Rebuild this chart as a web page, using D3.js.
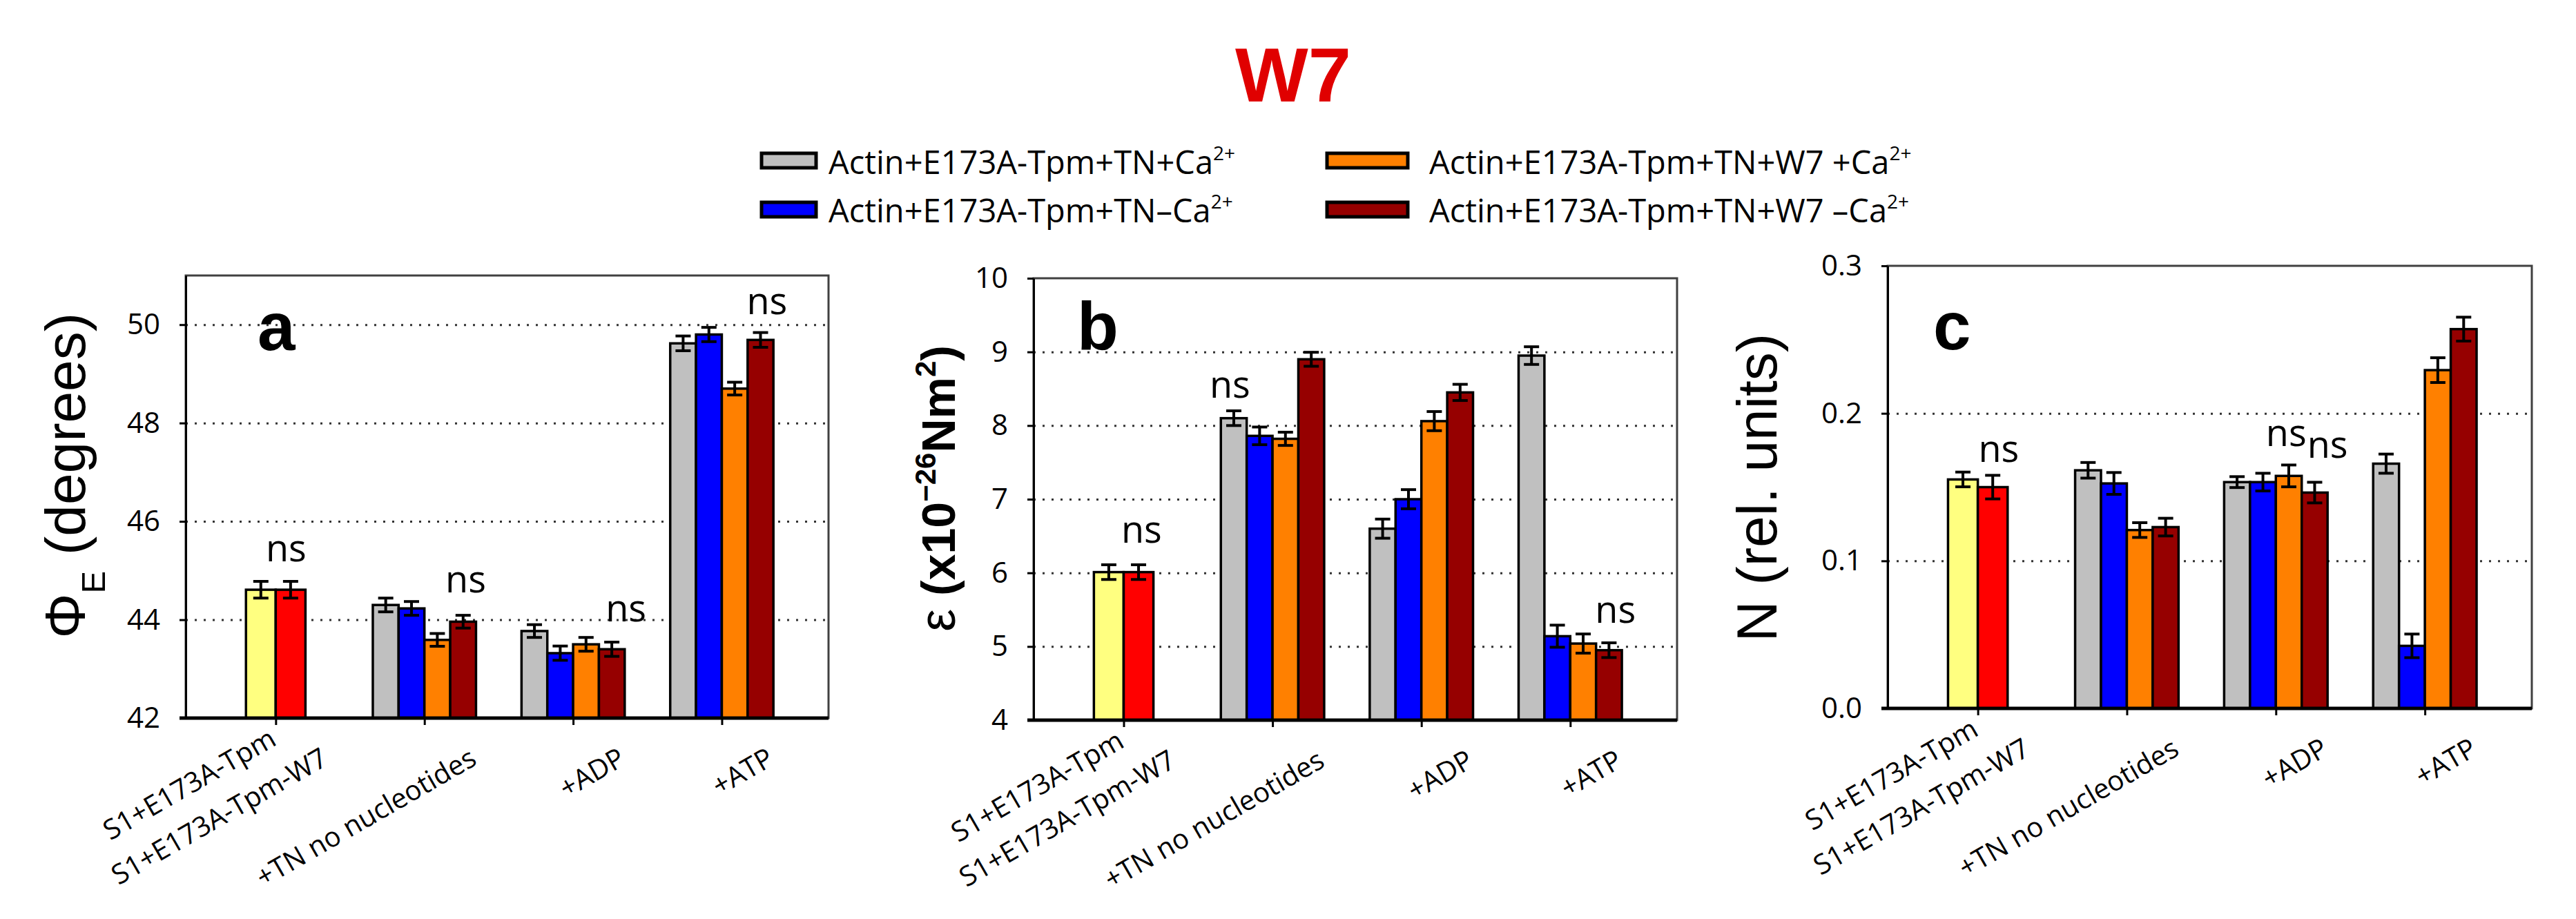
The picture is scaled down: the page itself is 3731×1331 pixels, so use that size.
<!DOCTYPE html>
<html>
<head>
<meta charset="utf-8">
<script src="https://cdn.jsdelivr.net/npm/d3@7"></script>
<style>
  body { margin: 0; background: #fff; }
  svg text { font-family: "Open Sans", sans-serif; fill: #000; }
</style>
</head>
<body>
<div id="chart"></div>
<script>
// categories (x groups) and their tick labels
const groups = ["pair", "tn", "adp", "atp"]
const groupLabels = [["S1+E173A-Tpm", "S1+E173A-Tpm-W7"], ["+TN no nucleotides"], ["+ADP"], ["+ATP"]]

// legend series
const seriesNames = ["Actin+E173A-Tpm+TN+Ca", "Actin+E173A-Tpm+TN\u2013Ca", "Actin+E173A-Tpm+TN+W7 +Ca", "Actin+E173A-Tpm+TN+W7 \u2013Ca"]
const seriesColors = ["#c0c0c0", "#0000ff", "#ff8000", "#960000"]
const pairColors = ["#ffff80", "#ff0000"]

// panel a: phi E (degrees)
const phiValues = [[44.61, 44.61], [44.30, 44.23, 43.59, 43.96], [43.77, 43.32, 43.50, 43.40], [49.62, 49.80, 48.70, 49.69]]
const phiErrors = [[0.17, 0.17], [0.14, 0.14, 0.13, 0.13], [0.13, 0.145, 0.14, 0.145], [0.15, 0.145, 0.13, 0.15]]
const phiTicks = [42, 44, 46, 48, 50]
const phiNs = [{group: 0, bar: 1, value: 45.19, shift: -0.15}, {group: 1, bar: 3, value: 44.55, shift: 0.1}, {group: 2, bar: 3, value: 43.96, shift: 0.55}, {group: 3, bar: 3, value: 50.21, shift: 0.25}]

// panel b: epsilon (x10^-26 Nm^2)
const epsValues = [[6.01, 6.01], [8.10, 7.86, 7.82, 8.90], [6.60, 7.00, 8.06, 8.45], [8.95, 5.14, 5.04, 4.95]]
const epsErrors = [[0.1, 0.1], [0.1, 0.12, 0.09, 0.095], [0.13, 0.13, 0.13, 0.11], [0.12, 0.15, 0.13, 0.1]]
const epsTicks = [4, 5, 6, 7, 8, 9, 10]
const epsNs = [{group: 0, bar: 1, value: 6.41, shift: 0.1}, {group: 1, bar: 0, value: 8.38, shift: -0.15}, {group: 3, bar: 3, value: 5.32, shift: 0.25}]

// panel c: N (rel. units)
const nValues = [[0.1552, 0.150], [0.1614, 0.1525, 0.1209, 0.1229], [0.1534, 0.1534, 0.1576, 0.1463], [0.1659, 0.0424, 0.2293, 0.2571]]
const nErrors = [[0.005, 0.008], [0.0053, 0.0074, 0.005, 0.006], [0.0037, 0.006, 0.0074, 0.007], [0.0065, 0.008, 0.0084, 0.0081]]
const nTicks = [0, 0.1, 0.2, 0.3]
const nNs = [{group: 0, bar: 1, value: 0.1673, shift: 0.2}, {group: 2, bar: 2, value: 0.1777, shift: -0.1}, {group: 2, bar: 3, value: 0.1697, shift: 0.5}]

const W = 3731, H = 1331

// panels: data + pixel box of the plot area
const panels = [
  {letter: "a", values: phiValues, errors: phiErrors, ticks: phiTicks, domain: [42, 51], grid: [44, 46, 48, 50], fmt: d3.format("d"), ns: phiNs,
   box: {x0: 269, x1: 1200, y0: 399, y1: 1040}, letterPos: [373, 507], titlePos: [123, 453]},
  {letter: "b", values: epsValues, errors: epsErrors, ticks: epsTicks, domain: [4, 10], grid: [5, 6, 7, 8, 9], fmt: d3.format("d"), ns: epsNs,
   box: {x0: 1497, x1: 2429, y0: 403, y1: 1043}, letterPos: [1560, 506], titlePos: [1383, 500]},
  {letter: "c", values: nValues, errors: nErrors, ticks: nTicks, domain: [0, 0.3], grid: [0.1, 0.2], fmt: d3.format(".1f"), ns: nNs,
   box: {x0: 2734, x1: 3667, y0: 385, y1: 1026}, letterPos: [2800, 506], titlePos: [2573, 483]}
]

const svg = d3.select("#chart").append("svg")
  .attr("width", W).attr("height", H)
  .attr("viewBox", `0 0 ${W} ${H}`)

// Title
svg.append("text")
  .attr("x", 1873).attr("y", 147)
  .attr("text-anchor", "middle")
  .style("font-family", "'Liberation Sans', Arial, sans-serif")
  .style("font-weight", "bold")
  .style("font-size", "112px")
  .style("fill", "#e00000")
  .text("W7")

// Legend (two columns, two rows)
const legendCols = [{sx: 1103, sw: 79, tx: 1200}, {sx: 1922, sw: 117, tx: 2070}]
const legendRows = [{sy: 222, ty: 252}, {sy: 293, ty: 322}]
seriesNames.forEach((name, i) => {
  const col = legendCols[Math.floor(i / 2)], row = legendRows[i % 2]
  svg.append("rect")
    .attr("x", col.sx).attr("y", row.sy)
    .attr("width", col.sw).attr("height", 21)
    .attr("fill", seriesColors[i])
    .attr("stroke", "#000").attr("stroke-width", 5)
  const t = svg.append("text")
    .attr("x", col.tx).attr("y", row.ty)
    .style("font-size", "47px")
  t.append("tspan").text(name)
  t.append("tspan").attr("dy", -20).style("font-size", "28px").text("2+")
})

const pairFrac = 0.40, quadFrac = 0.694

panels.forEach((p, pi) => {
  const box = p.box
  const pw = box.x1 - box.x0
  const g = svg.append("g")

  const y = d3.scaleLinear().domain(p.domain).range([box.y1, box.y0])
  const x = d3.scalePoint().domain(groups).range([box.x0 + pw * 0.14, box.x0 + pw * 0.834])
  const step = x.step()

  // dotted grid
  g.append("g")
    .attr("transform", `translate(${box.x0},0)`)
    .call(d3.axisLeft(y).tickValues(p.grid).tickSize(-pw).tickFormat(""))
    .call(s => s.select(".domain").remove())
    .selectAll("line")
    .attr("stroke", "#333").attr("stroke-width", 3).attr("stroke-dasharray", "3,10")

  // bars + error bars
  groups.forEach((gk, gi) => {
    const vals = p.values[gi], errs = p.errors[gi]
    const n = vals.length
    const gw = step * (n == 2 ? pairFrac : quadFrac)
    const xb = d3.scaleBand().domain(d3.range(n)).range([x(gk) - gw / 2, x(gk) + gw / 2])
    const colors = n == 2 ? pairColors : seriesColors
    const bg = g.append("g")

    bg.selectAll("rect")
      .data(vals)
      .enter()
      .append("rect")
      .attr("x", (d, i) => xb(i))
      .attr("width", xb.bandwidth())
      .attr("y", d => y(d))
      .attr("height", d => y(p.domain[0]) - y(d))
      .attr("fill", (d, i) => colors[i])
      .attr("stroke", "#000").attr("stroke-width", 3.5)

    const eb = bg.selectAll("g.err")
      .data(vals.map((v, i) => ({v: v, e: errs[i], i: i})))
      .enter()
      .append("g").attr("class", "err")
    const cx = d => xb(d.i) + xb.bandwidth() / 2
    eb.append("line")
      .attr("x1", cx).attr("x2", cx)
      .attr("y1", d => y(d.v - d.e)).attr("y2", d => y(d.v + d.e))
      .attr("stroke", "#000").attr("stroke-width", 4)
    ;[-1, 1].forEach(s => {
      eb.append("line")
        .attr("x1", d => cx(d) - 11).attr("x2", d => cx(d) + 11)
        .attr("y1", d => y(d.v + s * d.e)).attr("y2", d => y(d.v + s * d.e))
        .attr("stroke", "#000").attr("stroke-width", 4)
    })

    // ns marks
    p.ns.filter(a => a.group == gi).forEach(a => {
      g.append("text")
        .attr("x", xb(a.bar) + xb.bandwidth() * (0.5 + (a.shift || 0)))
        .attr("y", y(a.value))
        .attr("text-anchor", "middle")
        .style("font-size", "54px")
        .text("ns")
    })
  })

  // frame
  g.append("rect")
    .attr("x", box.x0).attr("y", box.y0)
    .attr("width", pw).attr("height", box.y1 - box.y0)
    .attr("fill", "none").attr("stroke", "#404040").attr("stroke-width", 3)

  // y axis
  const ya = g.append("g")
    .attr("transform", `translate(${box.x0},0)`)
    .call(d3.axisLeft(y).tickValues(p.ticks).tickSize(9).tickSizeOuter(0).tickPadding(28).tickFormat(p.fmt))
  ya.select(".domain").attr("stroke", "#000").attr("stroke-width", 3)
  ya.selectAll(".tick line").attr("stroke", "#000").attr("stroke-width", 3)
  ya.selectAll(".tick text").style("font-family", "'Open Sans', sans-serif").style("font-size", "42px").attr("fill", "#000")

  // x axis
  const xa = g.append("g")
    .attr("transform", `translate(0,${box.y1})`)
    .call(d3.axisBottom(x).tickSize(10).tickSizeOuter(0).tickFormat(""))
  xa.select(".domain").remove()
  xa.selectAll(".tick line").attr("stroke", "#000").attr("stroke-width", 3)
  g.append("line")
    .attr("x1", box.x0 - 9).attr("x2", box.x1)
    .attr("y1", box.y1).attr("y2", box.y1)
    .attr("stroke", "#000").attr("stroke-width", 5)

  // rotated category labels
  groupLabels.forEach((lines, gi) => {
    const ax = x(groups[gi]) + 78, ay = box.y1 + 66
    const last = g.append("text")
      .attr("transform", `translate(${ax},${ay}) rotate(-30)`)
      .attr("text-anchor", "end")
      .style("font-size", "40px")
      .text(lines[lines.length - 1])
    if (lines.length > 1) {
      const L = last.node().getComputedTextLength()
      g.append("text")
        .attr("transform", `translate(${ax},${ay}) rotate(-30) translate(${-L + 22},-62)`)
        .attr("text-anchor", "start")
        .style("font-size", "40px")
        .text(lines[0])
    }
  })

  // panel letter
  g.append("text")
    .attr("x", p.letterPos[0]).attr("y", p.letterPos[1])
    .style("font-family", "'Liberation Sans', Arial, sans-serif")
    .style("font-weight", "bold").style("font-size", "98px")
    .text(p.letter)

  // y axis title
  const tt = g.append("text")
    .attr("transform", `translate(${p.titlePos[0]},${p.titlePos[1]}) rotate(-90)`)
    .attr("text-anchor", "end")
    .style("font-family", "'Liberation Sans', Arial, sans-serif")
  if (pi == 0) {
    tt.style("font-size", "82px")
    tt.append("tspan").text("\u03A6")
    tt.append("tspan").attr("dy", 29).style("font-size", "49px").text("E")
    tt.append("tspan").attr("dy", -29).text("\u00A0(degrees)")
  } else if (pi == 1) {
    tt.style("font-size", "68px").style("font-weight", "bold")
    tt.append("tspan").style("font-weight", "normal").style("font-size", "74px").text("\u03B5")
    tt.append("tspan").text("\u00A0(x10")
    tt.append("tspan").attr("dy", -28).style("font-size", "42px").text("\u221226")
    tt.append("tspan").attr("dy", 28).text("Nm")
    tt.append("tspan").attr("dy", -28).style("font-size", "42px").text("2")
    tt.append("tspan").attr("dy", 28).text(")")
  } else {
    tt.style("font-size", "82px")
    tt.text("N (rel. units)")
  }
})
</script>
</body>
</html>
